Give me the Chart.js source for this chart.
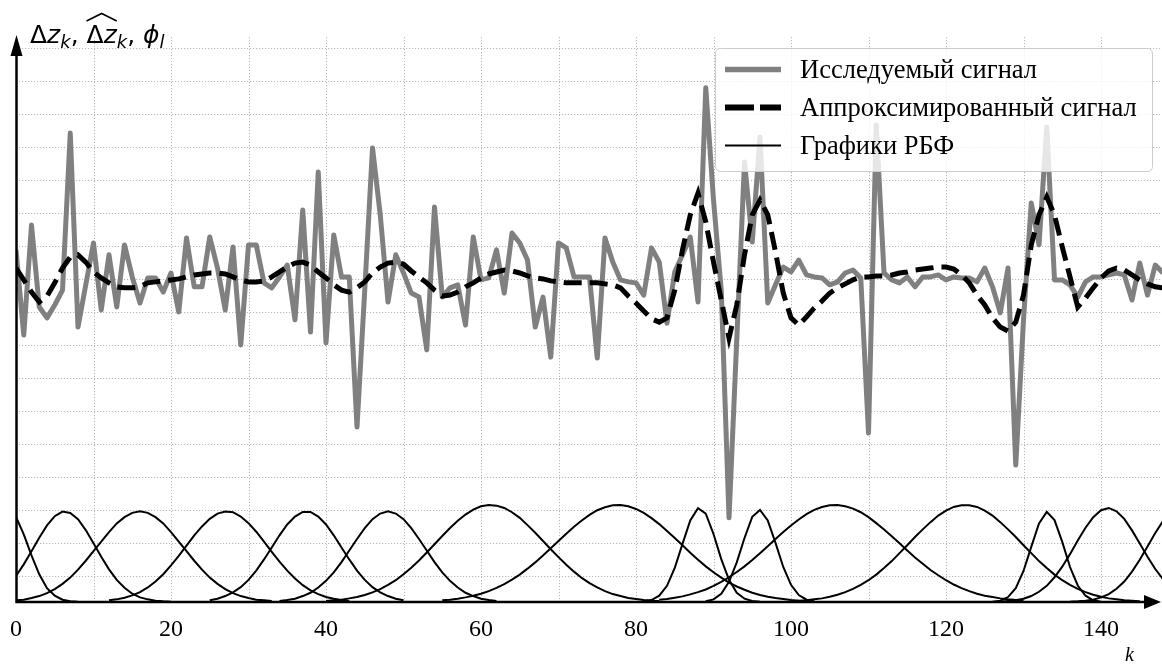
<!DOCTYPE html>
<html lang="ru">
<head>
<meta charset="utf-8">
<title>Аппроксимация сигнала РБФ</title>
<script src="https://cdn.jsdelivr.net/npm/chart.js@4.4.1/dist/chart.umd.min.js"></script>
<style>
  html, body { margin: 0; padding: 0; background: #fff; }
  #wrap { width: 1162px; height: 666px; }
</style>
</head>
<body>
<div id="wrap"><canvas id="rbfChart" width="1162" height="666"></canvas></div>
<script>
// Values, one per sample k = 0..148
const signal = [
  10.67, 8.09, 11.42, 8.94, 8.61, 9.00, 9.45, 14.21, 8.33, 9.61,
  10.88, 8.85, 10.52, 8.94, 10.82, 9.85, 9.06, 9.82, 9.82, 9.39,
  9.97, 8.79, 11.03, 9.55, 9.55, 11.06, 10.12, 8.85, 10.76, 7.79,
  10.82, 10.82, 9.67, 9.52, 9.85, 10.21, 8.55, 11.88, 8.18, 13.03,
  7.85, 11.12, 9.85, 9.85, 5.30, 9.45, 13.76, 11.73, 9.09, 10.52,
  9.97, 9.36, 9.24, 7.64, 11.97, 9.24, 9.52, 9.61, 8.39, 11.06,
  9.76, 9.82, 10.67, 9.36, 11.18, 10.88, 10.36, 8.33, 9.24, 7.42,
  10.88, 10.73, 9.85, 9.85, 9.85, 7.39, 11.03, 10.30, 9.76, 9.70,
  9.67, 9.30, 10.73, 10.30, 8.45, 10.00, 10.52, 11.06, 9.09, 15.58,
  12.18, 9.45, 2.55, 7.94, 13.33, 10.91, 14.09, 9.06, 9.61, 10.15,
  10.00, 10.36, 9.91, 9.85, 9.82, 9.61, 9.70, 9.97, 10.06, 9.82,
  5.12, 14.45, 9.97, 9.76, 9.67, 9.85, 9.55, 9.85, 9.85, 9.91,
  9.76, 9.85, 9.82, 9.82, 9.70, 10.12, 9.55, 8.76, 10.12, 4.15,
  8.55, 12.09, 10.82, 14.39, 9.76, 9.76, 9.61, 9.24, 9.70, 9.85,
  9.85, 9.91, 9.97, 9.91, 9.15, 10.27, 9.30, 10.21, 9.97
];

const approx = [
  10.12, 9.76, 9.39, 9.09, 9.27, 9.67, 10.12, 10.45, 10.52, 10.30,
  10.00, 9.82, 9.67, 9.55, 9.52, 9.52, 9.55, 9.67, 9.70, 9.73,
  9.76, 9.79, 9.85, 9.91, 9.94, 9.97, 9.97, 9.94, 9.85, 9.76,
  9.70, 9.70, 9.73, 9.85, 10.00, 10.15, 10.27, 10.30, 10.21, 10.00,
  9.82, 9.61, 9.45, 9.39, 9.52, 9.70, 9.97, 10.15, 10.27, 10.30,
  10.24, 10.03, 9.85, 9.67, 9.45, 9.27, 9.30, 9.39, 9.55, 9.67,
  9.82, 9.94, 10.00, 10.06, 10.03, 9.97, 9.88, 9.82, 9.79, 9.73,
  9.70, 9.67, 9.67, 9.67, 9.67, 9.67, 9.64, 9.61, 9.52, 9.27,
  9.06, 8.82, 8.58, 8.48, 8.61, 9.45, 10.67, 11.73, 12.39, 11.52,
  10.30, 9.15, 8.00, 9.00, 10.52, 11.73, 12.18, 11.73, 10.61, 9.36,
  8.61, 8.39, 8.64, 8.91, 9.12, 9.36, 9.52, 9.64, 9.76, 9.85,
  9.85, 9.88, 9.88, 9.91, 9.97, 10.00, 10.06, 10.09, 10.12, 10.15,
  10.15, 10.09, 9.91, 9.67, 9.30, 9.00, 8.61, 8.33, 8.21, 8.48,
  9.30, 10.82, 11.73, 12.27, 11.73, 10.76, 9.85, 8.94, 9.21, 9.52,
  9.82, 10.03, 10.12, 10.06, 9.91, 9.76, 9.64, 9.55, 9.52
];

// RBF curves: first sample index of each and its values
const rbfStarts = [0, 0, 0, 12, 25, 34, 40, 55, 81, 89, 83, 100, 126, 127, 136];
const rbfCurves = [
  [2.58, 2.05, 1.41, 0.84, 0.42, 0.19, 0.07, 0.02, 0.01],
  [0.79, 1.14, 1.54, 1.95, 2.32, 2.60, 2.74, 2.70, 2.51, 2.18, 1.78, 1.37, 0.99, 0.67, 0.43, 0.25, 0.14, 0.08, 0.04, 0.02, 0.01],
  [0.05, 0.07, 0.12, 0.18, 0.27, 0.39, 0.55, 0.74, 0.98, 1.25, 1.54, 1.83, 2.12, 2.38, 2.57, 2.70, 2.75, 2.70, 2.57, 2.38, 2.12, 1.83, 1.54, 1.25, 0.98, 0.74, 0.55, 0.39, 0.27, 0.18, 0.12, 0.07, 0.05, 0.03],
  [0.05, 0.08, 0.13, 0.20, 0.30, 0.44, 0.62, 0.84, 1.11, 1.40, 1.71, 2.02, 2.29, 2.52, 2.68, 2.74, 2.72, 2.59, 2.39, 2.13, 1.83, 1.52, 1.22, 0.95, 0.71, 0.51, 0.35, 0.24, 0.15, 0.10, 0.06, 0.03],
  [0.05, 0.10, 0.18, 0.29, 0.45, 0.67, 0.95, 1.29, 1.65, 2.02, 2.35, 2.59, 2.73, 2.73, 2.59, 2.35, 2.02, 1.65, 1.29, 0.95, 0.67, 0.45, 0.29, 0.18, 0.10, 0.05],
  [0.03, 0.06, 0.10, 0.18, 0.28, 0.44, 0.64, 0.90, 1.21, 1.56, 1.91, 2.24, 2.51, 2.68, 2.75, 2.68, 2.51, 2.24, 1.91, 1.56, 1.21, 0.90, 0.64, 0.44, 0.28, 0.18, 0.10, 0.06, 0.03],
  [0.03, 0.05, 0.07, 0.11, 0.15, 0.21, 0.29, 0.39, 0.52, 0.66, 0.84, 1.04, 1.26, 1.50, 1.75, 2.00, 2.24, 2.46, 2.65, 2.80, 2.90, 2.94, 2.92, 2.85, 2.72, 2.55, 2.33, 2.10, 1.85, 1.60, 1.36, 1.13, 0.92, 0.73, 0.57, 0.44, 0.33, 0.24, 0.18, 0.12, 0.09, 0.06, 0.04, 0.03],
  [0.05, 0.07, 0.10, 0.14, 0.19, 0.25, 0.33, 0.43, 0.54, 0.68, 0.83, 1.01, 1.20, 1.41, 1.63, 1.85, 2.07, 2.28, 2.47, 2.64, 2.78, 2.87, 2.93, 2.94, 2.90, 2.82, 2.70, 2.54, 2.36, 2.15, 1.94, 1.72, 1.49, 1.28, 1.08, 0.90, 0.74, 0.59, 0.47, 0.37, 0.28, 0.21, 0.16, 0.12, 0.09, 0.06, 0.04],
  [0.02, 0.06, 0.19, 0.49, 1.03, 1.76, 2.47, 2.84, 2.68, 2.06, 1.30, 0.67, 0.28, 0.10, 0.03, 0.01],
  [0.02, 0.08, 0.25, 0.61, 1.20, 1.94, 2.58, 2.79, 2.47, 1.79, 1.06, 0.52, 0.21, 0.07, 0.02],
  [0.07, 0.09, 0.13, 0.17, 0.23, 0.30, 0.38, 0.49, 0.61, 0.75, 0.91, 1.08, 1.27, 1.48, 1.69, 1.91, 2.12, 2.32, 2.50, 2.66, 2.79, 2.88, 2.93, 2.94, 2.90, 2.83, 2.72, 2.57, 2.39, 2.20, 1.99, 1.78, 1.56, 1.35, 1.16, 0.97, 0.81, 0.66, 0.53, 0.42, 0.33, 0.25, 0.19, 0.15, 0.11, 0.08, 0.06, 0.04],
  [0.02, 0.04, 0.05, 0.08, 0.11, 0.16, 0.22, 0.30, 0.40, 0.52, 0.66, 0.83, 1.03, 1.24, 1.48, 1.72, 1.97, 2.20, 2.42, 2.62, 2.77, 2.88, 2.93, 2.93, 2.88, 2.77, 2.62, 2.42, 2.20, 1.97, 1.72, 1.48, 1.24, 1.03, 0.83, 0.66, 0.52, 0.40, 0.30, 0.22, 0.16, 0.11, 0.08, 0.05, 0.04, 0.02],
  [0.01, 0.04, 0.15, 0.42, 0.94, 1.67, 2.38, 2.73, 2.48, 1.82, 1.06, 0.50, 0.19, 0.05, 0.01],
  [0.01, 0.03, 0.05, 0.10, 0.18, 0.31, 0.49, 0.75, 1.07, 1.45, 1.86, 2.25, 2.57, 2.78, 2.85, 2.75, 2.52, 2.17, 1.77, 1.37, 1.00, 0.69],
  [0.01, 0.02, 0.04, 0.07, 0.14, 0.24, 0.40, 0.62, 0.92, 1.28, 1.68, 2.09, 2.45]
];

const seriesNames = ['Исследуемый сигнал', 'Аппроксимированный сигнал', 'Графики РБФ'];
const xTickLabels = [0, 20, 40, 60, 80, 100, 120, 140];
const xGridStep = 10;
const yGridLines = [0.8, 1.8, 2.8, 3.8, 4.8, 5.8, 6.8, 7.8, 8.8, 9.8, 10.8, 11.8, 12.8, 13.8, 14.8, 15.8, 16.8];
const kMax = 147.87;
const yMax = 17.12;

const GRAY = '#808080';
const SERIF = '"Liberation Serif", "Times New Roman", serif';
const SANS = '"DejaVu Sans", sans-serif';

const toPoints = (vals, start = 0) => vals.map((v, i) => ({ x: start + i, y: v }));

// grid, arrows, tick labels, axis captions and the legend box
const decor = {
  id: 'decor',
  beforeDatasetsDraw(chart) {
    const { ctx, chartArea: a, scales: { x, y } } = chart;
    ctx.save();
    ctx.strokeStyle = '#b8b8b8';
    ctx.lineWidth = 1;
    ctx.setLineDash([1.2, 1.8]);
    ctx.beginPath();
    x.ticks.forEach(t => {
      if (t.value === 0 || t.value % xGridStep !== 0) return;
      const px = Math.round(x.getPixelForValue(t.value)) + 0.5;
      ctx.moveTo(px, a.top); ctx.lineTo(px, a.bottom);
    });
    y.ticks.forEach(t => {
      const py = Math.round(y.getPixelForValue(t.value)) + 0.5;
      ctx.moveTo(a.left, py); ctx.lineTo(a.right, py);
    });
    ctx.stroke();
    ctx.restore();
  },
  afterDatasetsDraw(chart) {
    const { ctx, scales: { x, y } } = chart;
    const x0 = x.getPixelForValue(0) + 0.5;
    const y0 = y.getPixelForValue(0);
    ctx.save();
    ctx.fillStyle = '#000';
    ctx.strokeStyle = '#000';
    ctx.lineWidth = 2.5;
    ctx.beginPath();
    ctx.moveTo(x0, y0 + 1); ctx.lineTo(x0, 52);
    ctx.moveTo(x0 - 1, y0); ctx.lineTo(1146, y0);
    ctx.stroke();
    // arrow heads
    ctx.beginPath();
    ctx.moveTo(x0, 35); ctx.lineTo(x0 - 6, 56); ctx.lineTo(x0 + 6, 56); ctx.closePath();
    ctx.moveTo(1161, y0); ctx.lineTo(1144, y0 - 7); ctx.lineTo(1144, y0 + 7); ctx.closePath();
    ctx.fill();

    // tick labels
    ctx.font = '24px ' + SERIF;
    ctx.textAlign = 'center';
    ctx.textBaseline = 'alphabetic';
    xTickLabels.forEach(v => ctx.fillText(String(v), x.getPixelForValue(v), 636));
    ctx.textAlign = 'left';

    // k caption
    ctx.font = 'italic 20px ' + SERIF;
    ctx.fillText('k', 1125, 661);

    // y caption: Δz_k, Δz_k (wide hat), ϕ_l
    let cx = 30;
    const base = 43;
    const seg = (txt, font, dy = 0) => {
      ctx.font = font;
      ctx.fillText(txt, cx, base + dy);
      cx += ctx.measureText(txt).width;
    };
    const up = '25px ' + SANS, it = 'italic 25px ' + SANS, sub = 'italic 18px ' + SANS;
    seg('Δ', up); seg('z', it); seg('k', sub, 5); seg(', ', up);
    const hat0 = cx;
    seg('Δ', up); seg('z', it);
    const hat1 = cx;
    seg('k', sub, 5); seg(', ', up);
    seg('ϕ', it); seg('l', sub, 5);
    ctx.lineWidth = 1.6;
    ctx.beginPath();
    ctx.moveTo(hat0, 21); ctx.lineTo((hat0 + hat1) / 2, 13.5); ctx.lineTo(hat1, 21);
    ctx.stroke();
    ctx.restore();
  },
  afterDraw(chart) {
    const { ctx } = chart;
    const box = { x: 715.5, y: 48.5, w: 437, h: 123 };
    ctx.save();
    ctx.beginPath();
    ctx.roundRect(box.x, box.y, box.w, box.h, 5);
    ctx.fillStyle = 'rgba(255,255,255,0.8)';
    ctx.fill();
    ctx.strokeStyle = '#cccccc';
    ctx.lineWidth = 1;
    ctx.stroke();
    const handles = [
      { color: GRAY, width: 5.5, dash: [] },
      { color: '#000', width: 6, dash: [29, 6] },
      { color: '#000', width: 2, dash: [] }
    ];
    const rows = [69.5, 107.5, 145.5];
    rows.forEach((ry, i) => {
      const h = handles[i];
      ctx.setLineDash(h.dash);
      ctx.strokeStyle = h.color;
      ctx.lineWidth = h.width;
      ctx.beginPath();
      ctx.moveTo(725, ry); ctx.lineTo(781, ry);
      ctx.stroke();
      ctx.setLineDash([]);
      ctx.fillStyle = '#000';
      ctx.font = '26.5px ' + SERIF;
      ctx.textBaseline = 'alphabetic';
      ctx.fillText(seriesNames[i], 800, ry + 8.7);
    });
    ctx.restore();
  }
};

const datasets = [
  { label: seriesNames[0], data: toPoints(signal), borderColor: GRAY, borderWidth: 5, borderJoinStyle: 'round', order: 3 },
  { label: seriesNames[1], data: toPoints(approx), borderColor: '#000', borderWidth: 5, borderDash: [18, 8], order: 2 },
  ...rbfCurves.map((c, j) => ({
    label: seriesNames[2], data: toPoints(c, rbfStarts[j]), borderColor: '#000', borderWidth: 2, order: 1
  }))
];

new Chart(document.getElementById('rbfChart'), {
  type: 'line',
  data: { datasets },
  options: {
    responsive: false,
    animation: false,
    events: [],
    layout: { padding: { left: 16, top: 37, right: 0, bottom: 0 } },
    plugins: { legend: { display: false }, tooltip: { enabled: false } },
    elements: { point: { radius: 0 }, line: { tension: 0, fill: false } },
    scales: {
      x: {
        type: 'linear', min: 0, max: kMax,
        grid: { display: false, drawTicks: false },
        border: { display: false },
        ticks: { display: false, stepSize: xGridStep, includeBounds: false, autoSkip: false },
        afterFit: s => { s.height = 64; }
      },
      y: {
        type: 'linear', min: 0, max: yMax,
        grid: { display: false, drawTicks: false },
        border: { display: false },
        ticks: { display: false },
        afterBuildTicks: s => { s.ticks = yGridLines.map(v => ({ value: v })); },
        afterFit: s => { s.width = 0; }
      }
    }
  },
  plugins: [decor]
});
</script>
</body>
</html>
